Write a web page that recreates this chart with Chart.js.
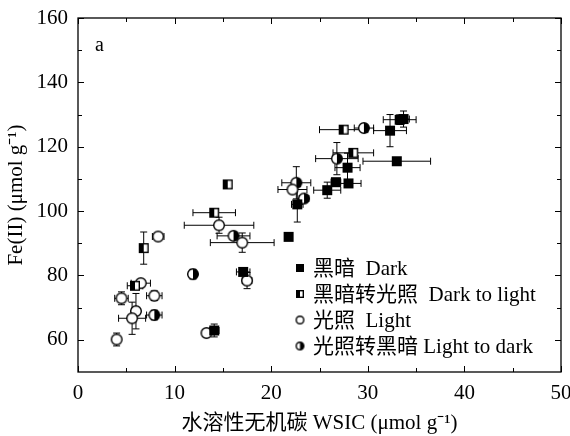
<!DOCTYPE html>
<html>
<head>
<meta charset="utf-8">
<script src="https://cdn.jsdelivr.net/npm/chart.js@4.4.1/dist/chart.umd.min.js"></script>
<style>
  html, body { margin: 0; padding: 0; background: #fff; }
  #wrap { width: 570px; height: 436px; }
</style>
</head>
<body>
<div id="wrap"><canvas id="grafica" width="570" height="436"></canvas></div>
<script>
// series: dark
const darkX    = [14.1, 17.1, 21.8, 22.7, 25.8, 26.7, 28.0, 27.9, 33.0, 32.3, 33.7];
const darkY    = [62.9, 81.1, 92.0, 102.1, 106.5, 109.0, 108.6, 113.5, 115.5, 125.0, 128.6];
const darkXErr = [0.5, 0.7, 0, 0.6, 1.4, 0.5, 1.3, 1.3, 3.5, 1.7, 0.6];
const darkYErr = [2, 0.5, 0, 5.5, 2.5, 0.5, 0.5, 4.5, 0.5, 5, 2.5];

// series: dark to light
const d2lX    = [15.5, 14.1, 6.8, 5.9, 28.5, 27.5, 33.3];
const d2lY    = [108.3, 99.5, 88.5, 76.8, 118.1, 125.3, 128.4];
const d2lXErr = [0, 2.2, 0.3, 0.8, 2.1, 2.5, 1.7];
const d2lYErr = [0, 0.5, 5, 1, 0.5, 0.5, 1.5];

// series: light
const lightX    = [14.6, 17.0, 8.3, 17.5, 6.5, 4.5, 7.9, 6.0, 5.6, 4.0, 13.3, 22.2];
const lightY    = [95.6, 90.2, 92.1, 78.4, 77.6, 72.9, 73.7, 68.9, 66.7, 60.1, 62.1, 106.7];
const lightXErr = [3.6, 3.3, 0.6, 0.5, 1.0, 0.7, 0.8, 0.3, 1.4, 0.3, 0.4, 1.5];
const lightYErr = [2.5, 3, 0.5, 2.5, 1, 2, 1.5, 5.5, 5, 2, 1, 1];

// series: light to dark
const l2dX    = [16.1, 11.9, 7.9, 22.6, 23.4, 26.8, 29.6];
const l2dY    = [92.3, 80.4, 67.7, 108.8, 103.9, 116.3, 125.8];
const l2dXErr = [1.7, 0.3, 0.8, 1.5, 0.5, 2.2, 1.0];
const l2dYErr = [0.5, 1.5, 1.5, 5, 1, 5, 0.5];

const xTicks = [0, 10, 20, 30, 40, 50];
const yTicks = [60, 80, 100, 120, 140, 160];
const seriesNames = ['黑暗  Dark', '黑暗转光照  Dark to light', '光照  Light', '光照转黑暗 Light to dark'];

const FONT = "'Liberation Serif', 'Noto Sans CJK SC', serif";

// marker images
function marcador(tipo, tam) {
    const c = document.createElement('canvas');
    c.width = tam + 2; c.height = tam + 2;
    const ctx = c.getContext('2d');
    const m = (tam + 2) / 2, h = tam / 2;
    ctx.lineWidth = 1.4;
    ctx.strokeStyle = '#000';
    if (tipo === 'dark') {
        ctx.fillStyle = '#000';
        ctx.fillRect(m - h, m - h, tam, tam);
    } else if (tipo === 'd2l') {
        ctx.fillStyle = '#fff';
        ctx.fillRect(m - h, m - h, tam, tam);
        ctx.fillStyle = '#000';
        ctx.fillRect(m - h, m - h, tam / 2, tam);
        ctx.strokeRect(m - h + 0.7, m - h + 0.7, tam - 1.4, tam - 1.4);
    } else {
        const r = h - 0.7;
        ctx.beginPath(); ctx.arc(m, m, r, 0, Math.PI * 2);
        ctx.fillStyle = '#fff'; ctx.fill();
        if (tipo === 'l2d') {
            ctx.beginPath(); ctx.arc(m, m, r, -Math.PI / 2, Math.PI / 2);
            ctx.closePath(); ctx.fillStyle = '#000'; ctx.fill();
        }
        ctx.beginPath(); ctx.arc(m, m, r, 0, Math.PI * 2); ctx.stroke();
    }
    return c;
}

const simbolos = [marcador('dark', 10), marcador('d2l', 10), marcador('light', 12), marcador('l2d', 12)];
const simbolosLeyenda = [marcador('dark', 8), marcador('d2l', 8), marcador('light', 9), marcador('l2d', 9)];

function puntos(xs, ys, xe, ye) {
    return xs.map((x, i) => ({ x: x, y: ys[i], xe: xe[i], ye: ye[i] }));
}

const datos = [
    puntos(darkX, darkY, darkXErr, darkYErr),
    puntos(d2lX, d2lY, d2lXErr, d2lYErr),
    puntos(lightX, lightY, lightXErr, lightYErr),
    puntos(l2dX, l2dY, l2dXErr, l2dYErr)
];

// error bars, drawn under the markers
const barrasError = {
    id: 'barrasError',
    beforeDatasetsDraw(chart) {
        const { ctx, scales: { x, y } } = chart;
        ctx.save();
        ctx.strokeStyle = '#000';
        ctx.lineWidth = 1;
        const cap = 3.5;
        chart.data.datasets.forEach(ds => {
            ds.data.forEach(p => {
                const px = x.getPixelForValue(p.x), py = y.getPixelForValue(p.y);
                ctx.beginPath();
                if (p.xe > 0) {
                    const x1 = x.getPixelForValue(p.x - p.xe), x2 = x.getPixelForValue(p.x + p.xe);
                    ctx.moveTo(x1, py); ctx.lineTo(x2, py);
                    ctx.moveTo(x1, py - cap); ctx.lineTo(x1, py + cap);
                    ctx.moveTo(x2, py - cap); ctx.lineTo(x2, py + cap);
                }
                if (p.ye > 0) {
                    const y1 = y.getPixelForValue(p.y - p.ye), y2 = y.getPixelForValue(p.y + p.ye);
                    ctx.moveTo(px, y1); ctx.lineTo(px, y2);
                    ctx.moveTo(px - cap, y1); ctx.lineTo(px + cap, y1);
                    ctx.moveTo(px - cap, y2); ctx.lineTo(px + cap, y2);
                }
                ctx.stroke();
            });
        });
        ctx.restore();
    }
};

// frame, inner ticks, panel letter and legend
const marco = {
    id: 'marco',
    afterDraw(chart) {
        const { ctx, chartArea: a, scales: { x, y } } = chart;
        ctx.save();
        ctx.strokeStyle = '#000';
        ctx.lineWidth = 1.3;
        ctx.strokeRect(a.left, a.top, a.right - a.left, a.bottom - a.top);
        ctx.lineWidth = 1;
        ctx.beginPath();
        for (let v = 0; v <= 50; v += 5) {
            const px = Math.round(x.getPixelForValue(v)) + 0.5;
            const len = v % 10 === 0 ? 6 : 4;
            ctx.moveTo(px, a.bottom); ctx.lineTo(px, a.bottom - len);
            ctx.moveTo(px, a.top); ctx.lineTo(px, a.top + len);
        }
        for (let v = 60; v <= 160; v += 10) {
            const py = Math.round(y.getPixelForValue(v)) + 0.5;
            const len = v % 20 === 0 ? 6 : 4;
            ctx.moveTo(a.left, py); ctx.lineTo(a.left + len, py);
            ctx.moveTo(a.right, py); ctx.lineTo(a.right - len, py);
        }
        ctx.stroke();

        ctx.fillStyle = '#000';
        ctx.font = '20px ' + FONT;
        ctx.textBaseline = 'middle';
        ctx.textAlign = 'left';
        ctx.fillText('a', a.left + 17, a.top + 28);

        ctx.font = '21px ' + FONT;
        const lx = 300, ly = 268, paso = 26;
        seriesNames.forEach((nombre, i) => {
            const s = simbolosLeyenda[i];
            const yy = ly + i * paso;
            ctx.drawImage(s, lx - s.width / 2, yy - s.height / 2);
            ctx.fillText(nombre, lx + 13, yy + 1);
        });
        ctx.restore();
    }
};

new Chart(document.querySelector('#grafica'), {
    type: 'scatter',
    data: {
        datasets: datos.map((d, i) => ({
            label: seriesNames[i],
            data: d,
            pointStyle: simbolos[i],
            pointRadius: 6,
            pointHoverRadius: 6
        }))
    },
    options: {
        responsive: false,
        animation: false,
        layout: { padding: { top: 18, right: 9, left: 0, bottom: 0 } },
        scales: {
            x: {
                type: 'linear',
                min: 0, max: 50,
                afterBuildTicks: s => { s.ticks = xTicks.map(v => ({ value: v })); },
                afterFit: s => { s.height = 64; s.paddingRight = 0; s.paddingLeft = 0; },
                grid: { display: false, drawTicks: false },
                border: { display: false },
                ticks: { color: '#000', padding: 9, font: { family: FONT, size: 21 } },
                title: {
                    display: true,
                    text: '水溶性无机碳 WSIC (μmol g⁻¹)',
                    color: '#000',
                    padding: { top: 2, bottom: 0 },
                    font: { family: FONT, size: 21 }
                }
            },
            y: {
                type: 'linear',
                min: 50, max: 160,
                afterBuildTicks: s => { s.ticks = yTicks.map(v => ({ value: v })); },
                afterFit: s => { s.width = 78; s.paddingTop = 0; s.paddingBottom = 0; },
                grid: { display: false, drawTicks: false },
                border: { display: false },
                ticks: { color: '#000', padding: 10, font: { family: FONT, size: 21 } },
                title: {
                    display: true,
                    text: 'Fe(II) (μmol g⁻¹)',
                    color: '#000',
                    padding: { top: 4, bottom: 0 },
                    font: { family: FONT, size: 21 }
                }
            }
        },
        plugins: {
            legend: { display: false },
            tooltip: { enabled: false }
        }
    },
    plugins: [barrasError, marco]
});
</script>
</body>
</html>
